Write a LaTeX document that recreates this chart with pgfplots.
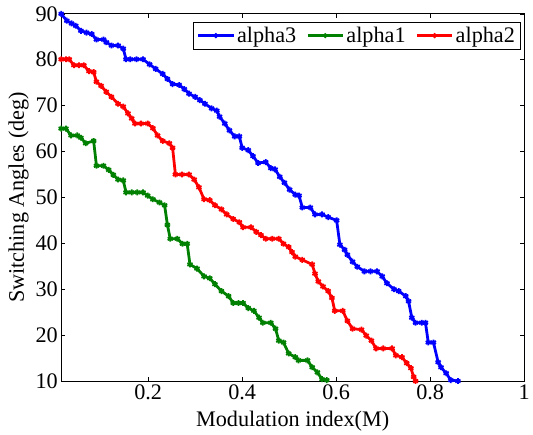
\documentclass[border=0pt]{standalone}
\usepackage{fontspec}
\setmainfont{Liberation Serif}
\usepackage{pgfplots}
\pgfplotsset{compat=1.18}
\definecolor{mblue}{rgb}{0,0,1}
\definecolor{mgreen}{rgb}{0,0.5,0}
\definecolor{mred}{rgb}{1,0,0}
\newcommand{\ff}{\rmfamily\fontsize{22.5}{22.5}\selectfont}
\begin{document}
\begin{tikzpicture}
\begin{axis}[
  scale only axis,
  width=469pt, height=372pt,
  xmin=0.015, xmax=1, ymin=10, ymax=90,
  xtick={0.2,0.4,0.6,0.8,1},
  xticklabels={0.2,0.4,0.6,0.8,1},
  ytick={10,20,30,40,50,60,70,80,90},
  yticklabels={10,20,30,40,50,60,70,80,90},
  tick align=inside,
  major tick length=4pt,
  tick style={black, line width=0.6pt},
  axis line style={black, line width=0.9pt},
  /pgf/number format/assume math mode=true,
  ticklabel style={font=\ff},
  label style={font=\ff},
  xlabel={Modulation index(M)},
  ylabel={Switching Angles (deg)},
  xlabel style={yshift=-5pt},
  legend columns=3,
  legend style={at={(rel axis cs:0.9915,0.978)}, anchor=north east, draw=black, line width=0.7pt,
    font=\ff, inner xsep=3pt, inner ysep=3pt,
    /tikz/every even column/.append style={column sep=8pt}},
  legend image code/.code={\draw[mark repeat=2,mark phase=2,#1,mark=*,mark size=1.6pt] plot coordinates {(0pt,0pt) (18pt,0pt) (36pt,0pt)};},
  every axis plot/.append style={line width=2.8pt, mark=asterisk, mark size=3pt, mark options={solid, line width=1.8pt}},
]
\addplot[color=mblue] coordinates {
(0.015,90) (0.027,88.5) (0.037,87.9) (0.046,87.4) (0.057,86.3) (0.069,85.9) (0.080,85.6) (0.090,84.4) (0.105,84.4) (0.111,83.8) (0.122,83.1) (0.136,83.1) (0.147,82.4) (0.153,80.1) (0.162,80.1) (0.175,80.1) (0.189,80.1) (0.203,79) (0.216,78) (0.231,76.9) (0.241,75.8) (0.252,74.7) (0.266,74.5) (0.277,73.6) (0.287,72.6) (0.300,71.9) (0.310,71.2) (0.321,70.4) (0.335,69.4) (0.346,68.9) (0.352,67.6) (0.363,66.1) (0.373,64.6) (0.384,63.3) (0.394,63.3) (0.400,60.8) (0.413,60.3) (0.423,59) (0.434,57.5) (0.450,57.7) (0.461,56.4) (0.470,56.1) (0.480,54.5) (0.490,53.2) (0.501,51.7) (0.513,50.6) (0.521,50.4) (0.528,47.8) (0.545,47.8) (0.555,46.3) (0.570,46.3) (0.583,45.7) (0.601,45) (0.608,39.7) (0.618,38.6) (0.624,37.5) (0.635,36) (0.645,34.9) (0.660,33.9) (0.673,33.9) (0.687,33.9) (0.698,32.8) (0.708,31.3) (0.723,30) (0.733,29.6) (0.748,28.5) (0.754,27.4) (0.761,23.8) (0.769,22.7) (0.782,22.7) (0.790,22.7) (0.796,18.4) (0.807,18.4) (0.817,14.1) (0.823,13) (0.834,11.7) (0.844,10.2) (0.859,10)
};
\addlegendentry{alpha3}
\addplot[color=mgreen] coordinates {
(0.015,65) (0.025,65) (0.036,63.5) (0.049,63.5) (0.057,63) (0.067,61.8) (0.084,62.3) (0.090,56.9) (0.105,56.9) (0.116,56) (0.126,54.9) (0.136,53.9) (0.147,53.7) (0.153,51.1) (0.165,51.1) (0.177,51.1) (0.189,51.1) (0.199,50.4) (0.210,49.6) (0.224,48.9) (0.235,48.3) (0.241,44) (0.247,41) (0.262,41) (0.273,39.9) (0.283,39.9) (0.289,35.4) (0.304,34.5) (0.319,32.8) (0.331,32.4) (0.342,31.1) (0.356,29.6) (0.371,28.5) (0.381,27) (0.392,27) (0.402,27) (0.413,25.9) (0.425,25.3) (0.436,23.8) (0.444,22.7) (0.461,22.7) (0.471,21.4) (0.478,18.8) (0.488,18.4) (0.499,16) (0.513,15.2) (0.520,14.5) (0.539,14.5) (0.549,13) (0.560,11.9) (0.570,10.4) (0.580,10.2)
};
\addlegendentry{alpha1}
\addplot[color=mred] coordinates {
(0.015,80.1) (0.025,80.1) (0.032,80.1) (0.042,78.8) (0.053,78.8) (0.063,78.8) (0.074,77.5) (0.084,77.3) (0.090,75.2) (0.100,74.3) (0.111,73) (0.122,71.9) (0.136,70.4) (0.147,69.8) (0.157,68.3) (0.165,67.2) (0.172,66.1) (0.185,66.1) (0.199,66.1) (0.210,65.1) (0.220,63.5) (0.231,62.3) (0.245,61.8) (0.252,60.8) (0.258,55) (0.272,55) (0.287,55) (0.298,53.9) (0.308,52.2) (0.319,49.6) (0.331,49.4) (0.342,48.3) (0.356,47.4) (0.367,46.3) (0.381,45.3) (0.394,44.6) (0.402,43.5) (0.419,43.5) (0.430,42.5) (0.440,41.8) (0.450,41) (0.464,41) (0.478,41) (0.488,39.9) (0.499,39.2) (0.506,38.1) (0.513,37.1) (0.528,36.4) (0.549,35.4) (0.555,33.4) (0.562,31.7) (0.572,30.6) (0.583,29.6) (0.591,28.1) (0.597,25.3) (0.614,25.3) (0.624,23.1) (0.635,21.4) (0.654,21.2) (0.664,19.9) (0.675,18.8) (0.685,17.1) (0.700,17.1) (0.719,17.1) (0.727,15.6) (0.740,15.2) (0.750,13.9) (0.759,12.8) (0.765,10.9) (0.769,10)
};
\addlegendentry{alpha2}
\end{axis}
\path ([shift={(-62pt,-52pt)}]current axis.south west) rectangle ([shift={(2pt,14pt)}]current axis.north east);
\end{tikzpicture}
\end{document}
